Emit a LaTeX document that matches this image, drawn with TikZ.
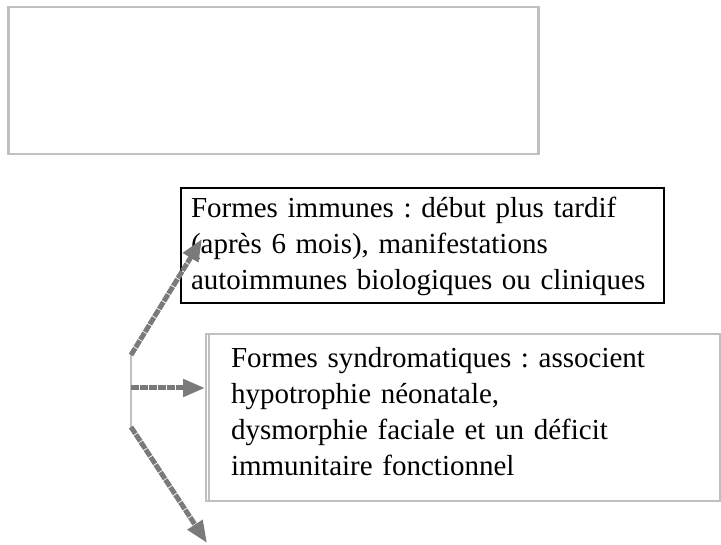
\documentclass[tikz,border=0pt]{standalone}
\usepackage{fontspec}
\setmainfont{Liberation Serif}
\usepackage{xcolor}
\usepackage{tikz}
\usetikzlibrary{arrows.meta,positioning}
\definecolor{boxgray}{RGB}{192,192,192}
\definecolor{flowgray}{RGB}{122,122,122}
\frenchspacing

\begin{document}
\begin{tikzpicture}[x=1pt,y=-1pt,font=\fontsize{29}{36}\selectfont,
 flow/.style={draw=flowgray,line width=5pt,dash pattern=on 8pt off 1pt,
 -{Triangle[length=22pt,width=17pt]}}]
 \useasboundingbox (0,0) rectangle (721,545);
 \node[draw=boxgray,line width=2.5pt,anchor=north west,minimum width=530pt,minimum height=147pt] (blank) at (7,6) {};
 \node[draw,line width=2pt,anchor=north west,inner xsep=10pt,inner ysep=0pt,text width=463pt,align=left,
 text height=30pt,text depth=85pt] (immune) at (180,187)
 {Formes immunes : début plus tardif\\(après 6 mois), manifestations\\autoimmunes biologiques ou cliniques};
 \node[draw=boxgray,line width=2pt,anchor=north west,inner xsep=25pt,inner ysep=0pt,text width=464pt,align=left,
 text height=34pt,text depth=133pt] (syndrom) at (205,333)
 {Formes syndromatiques : associent\\hypotrophie néonatale,\\dysmorphie faciale et un déficit\\immunitaire fonctionnel};
 \draw[boxgray,line width=1.5pt] ([xshift=4pt]syndrom.north west) -- ([xshift=4pt]syndrom.south west);
 % split point and free ends
 \coordinate (up) at (131,355);
 \coordinate (mid) at (131,388);
 \coordinate (down) at (131,427);
 \coordinate (upend) at (202,239);
 \coordinate (downend) at (207,543);
 \draw[boxgray,line width=1.5pt] (up) -- (down);
 \draw[flow] (up) -- (upend);
 \draw[flow] (mid) -- (mid -| syndrom.west);
 \draw[flow] (down) -- (downend);
\end{tikzpicture}
\end{document}
